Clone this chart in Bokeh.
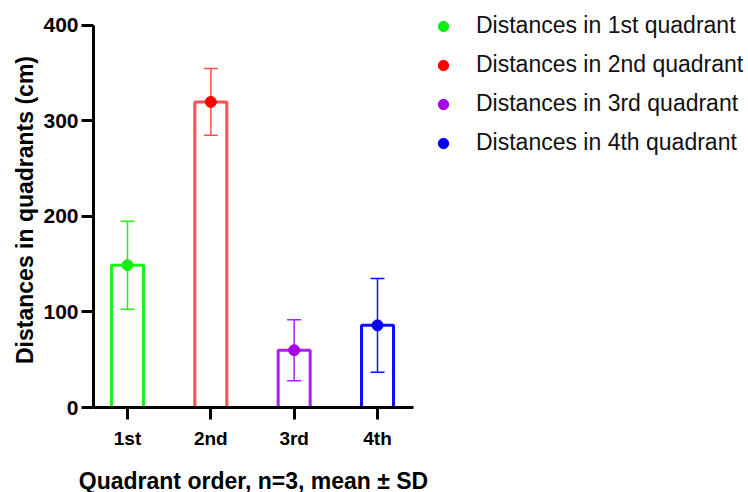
from bokeh.plotting import figure
from bokeh.models import (ColumnDataSource, Range1d, FixedTicker, Whisker, TeeHead,
                          Legend, LegendItem)
from bokeh.core.properties import field
from bokeh.embed import file_html
from bokeh.resources import INLINE

categories = ["1st", "2nd", "3rd", "4th"]
means = [149, 320, 60, 86]
sds = [46, 35, 32, 49]
legend_labels = ["Distances in 1st quadrant", "Distances in 2nd quadrant",
                 "Distances in 3rd quadrant", "Distances in 4th quadrant"]
y_ticks = [0, 100, 200, 300, 400]
bar_colors = ["#22ee22", "#ff5050", "#b01ef0", "#1010f8"]
dot_colors = ["#11ee11", "#ff0000", "#a800e8", "#0000f5"]

xs = list(range(1, len(categories) + 1))
src = ColumnDataSource(dict(
    x=xs, mean=means,
    upper=[m + s for m, s in zip(means, sds)],
    lower=[m - s for m, s in zip(means, sds)],
    bar_color=bar_colors, dot_color=dot_colors,
))

p = figure(frame_width=320, frame_height=395, min_border_left=93, min_border_top=12,
           min_border_right=335, min_border_bottom=85,
           x_range=Range1d(0.592, 4.432), y_range=Range1d(0, 413.6),
           output_backend="svg", toolbar_location=None, tools="")

p.vbar(x="x", top="mean", bottom=0, width=0.384, source=src, fill_color=None,
       line_color="bar_color", line_width=3)

wh = Whisker(base="x", upper="upper", lower="lower", source=src,
             line_color=field("bar_color"), line_width=1.5,
             upper_head=TeeHead(size=14, line_color=field("bar_color"), line_width=1.5),
             lower_head=TeeHead(size=14, line_color=field("bar_color"), line_width=1.5))
p.add_layout(wh)

r = p.scatter(x="x", y="mean", source=src, size=11, fill_color="dot_color",
              line_color="dot_color")

p.grid.visible = False
p.outline_line_color = None
p.background_fill_color = "white"

for ax in (p.xaxis[0], p.yaxis[0]):
    ax.axis_line_width = 3
    ax.axis_line_color = "black"
    ax.major_tick_line_width = 3
    ax.major_tick_line_color = "black"
    ax.major_tick_in = 0
    ax.major_tick_out = 12
    ax.minor_tick_line_color = None
    ax.major_label_text_font = "Liberation Sans"
    ax.major_label_text_font_style = "bold"
    ax.major_label_text_color = "black"
    ax.axis_label_text_font = "Liberation Sans"
    ax.axis_label_text_font_style = "bold"
    ax.axis_label_text_color = "black"
    ax.axis_label_text_font_size = "23px"

p.xaxis.ticker = FixedTicker(ticks=xs)
p.xaxis.major_label_overrides = {x: c for x, c in zip(xs, categories)}
p.xaxis.major_label_text_font_size = "19px"
p.xaxis.major_label_standoff = 8
p.xaxis.axis_label = "Quadrant order, n=3, mean ± SD"
p.xaxis.axis_label_standoff = 16

p.yaxis.ticker = FixedTicker(ticks=y_ticks)
p.yaxis.bounds = (y_ticks[0], y_ticks[-1])
p.yaxis.major_label_text_font_size = "21px"
p.yaxis.major_label_standoff = 3
p.yaxis.axis_label = "Distances in quadrants (cm)"
p.yaxis.axis_label_standoff = 2

items = [LegendItem(label=lab, renderers=[r], index=i) for i, lab in enumerate(legend_labels)]
legend = Legend(items=items, location="top_left", orientation="vertical",
                glyph_width=60, glyph_height=26, label_height=26, spacing=12,
                label_standoff=3, padding=0, margin=0,
                border_line_color=None, background_fill_alpha=0,
                label_text_font="Liberation Sans", label_text_font_size="23px",
                label_text_color="#111111")
p.add_layout(legend, "right")

open("out.html", "w").write(file_html(p, INLINE))
